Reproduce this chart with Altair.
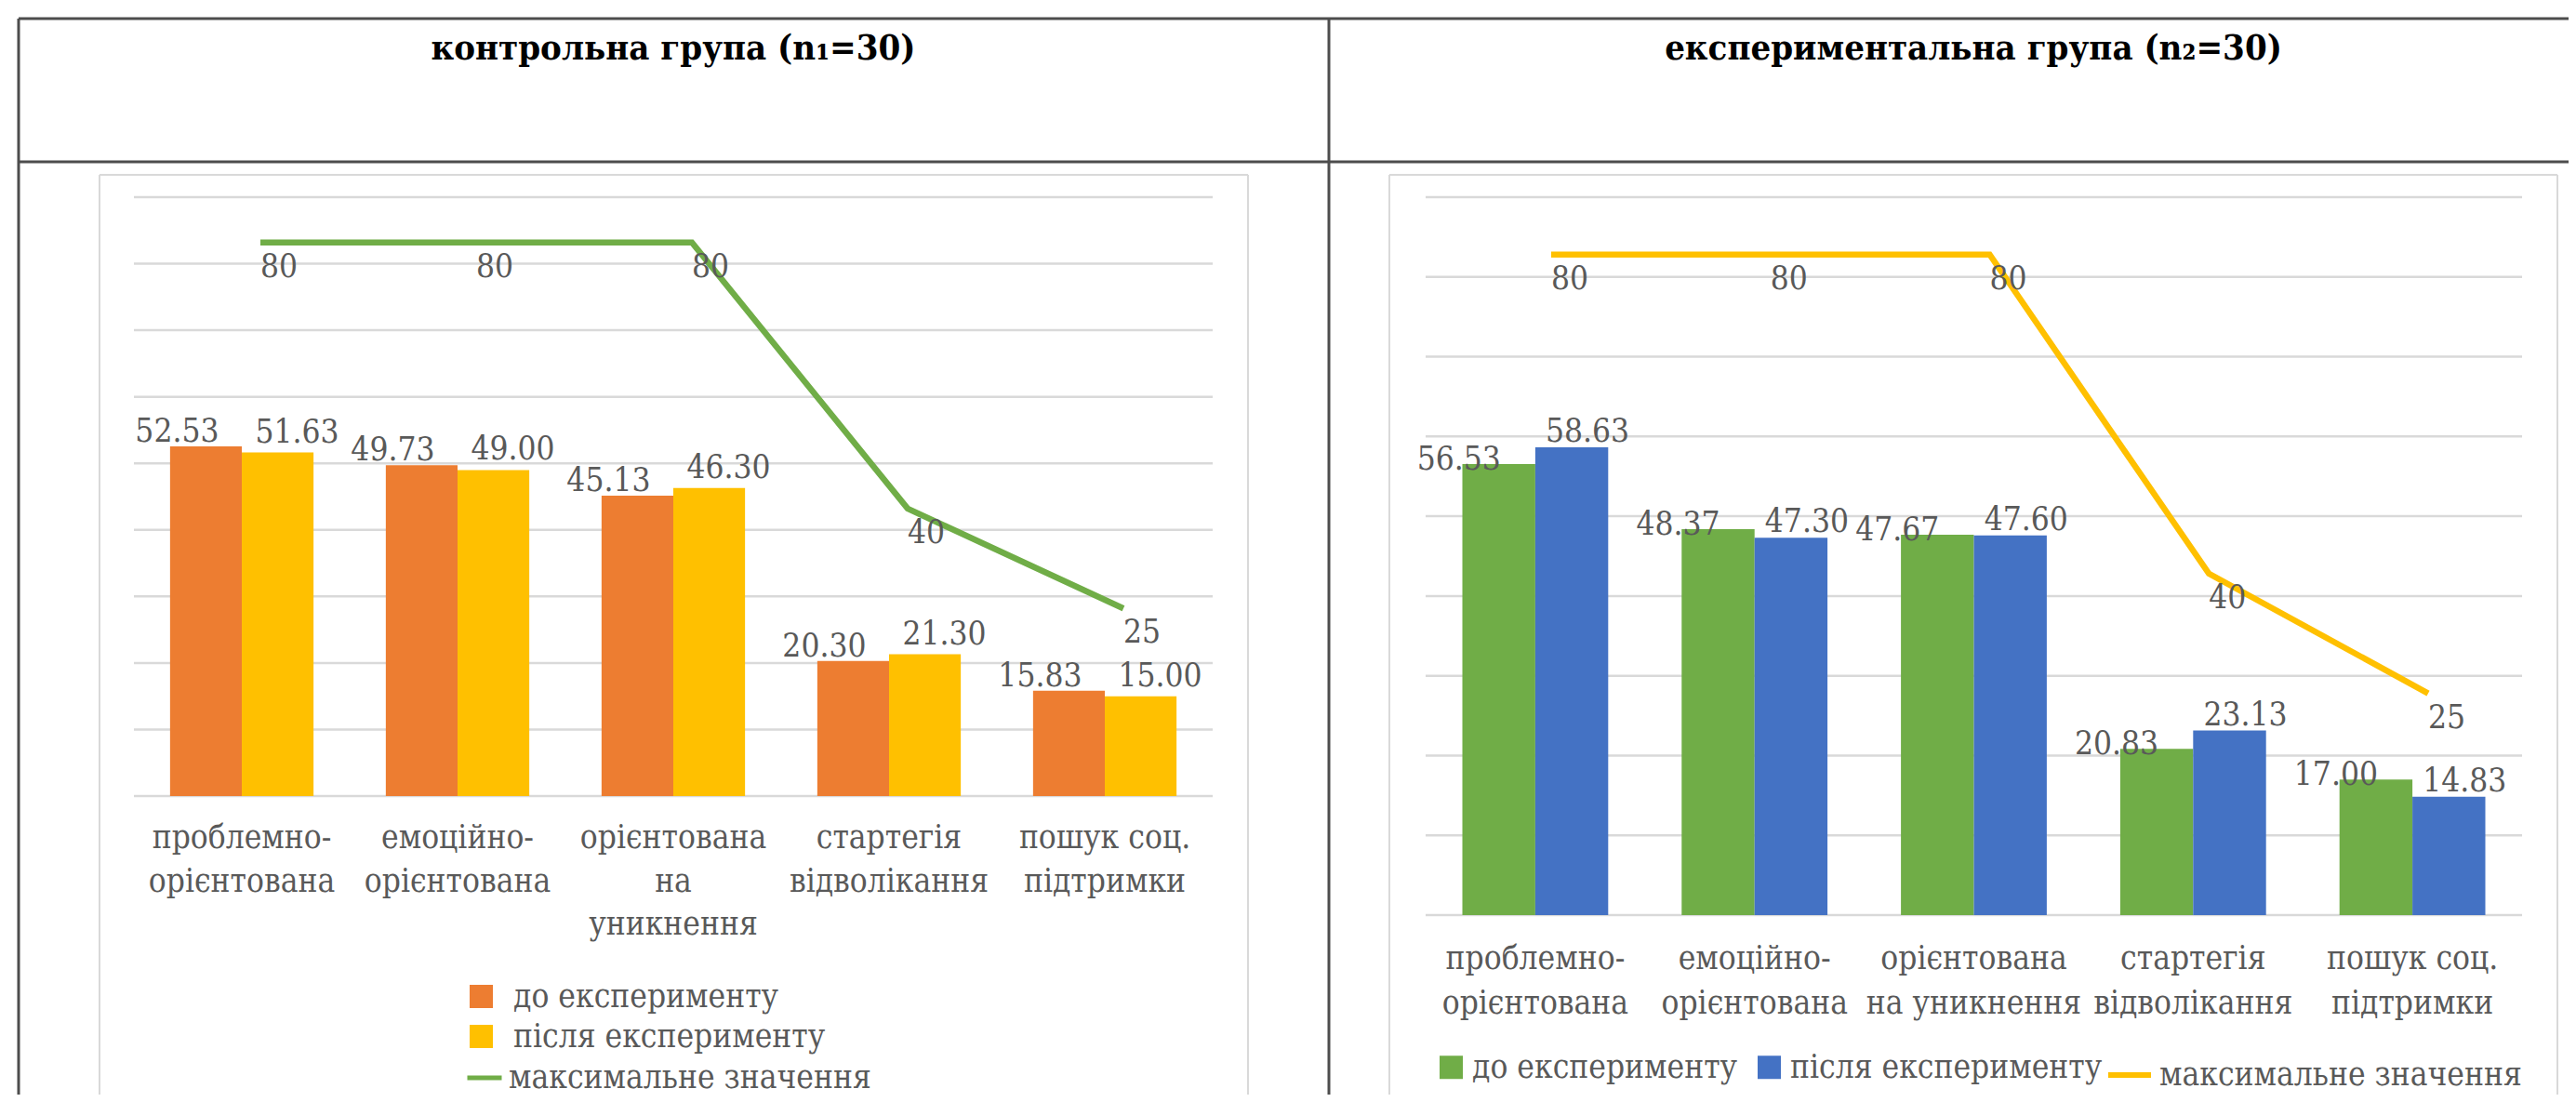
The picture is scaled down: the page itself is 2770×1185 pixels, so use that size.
import altair as alt
import pandas as pd

# ---------------- data ----------------
categories = [
    "проблемно-орієнтована",
    "емоційно-орієнтована",
    "орієнтована на уникнення",
    "стартегія відволікання",
    "пошук соц. підтримки",
]
labels_control = [
    "проблемно-\nорієнтована",
    "емоційно-\nорієнтована",
    "орієнтована\nна\nуникнення",
    "стартегія\nвідволікання",
    "пошук соц.\nпідтримки",
]
labels_experimental = [
    "проблемно-\nорієнтована",
    "емоційно-\nорієнтована",
    "орієнтована\nна уникнення",
    "стартегія\nвідволікання",
    "пошук соц.\nпідтримки",
]
series_names = ["до експерименту", "після експерименту"]
line_name = "максимальне значення"
panel_titles = ["контрольна група (n₁=30)", "експериментальна група (n₂=30)"]

control_before = [52.53, 49.73, 45.13, 20.30, 15.83]
control_after = [51.63, 49.00, 46.30, 21.30, 15.00]
exp_before = [56.53, 48.37, 47.67, 20.83, 17.00]
exp_after = [58.63, 47.30, 47.60, 23.13, 14.83]
max_values = [80, 80, 80, 40, 25]
grid_values = [0, 10, 20, 30, 40, 50, 60, 70, 80, 90]

FONT = "'DejaVu Serif Condensed', 'DejaVu Serif', serif"
TXT = "#595959"
FS = 35
W, H = 2754, 1169


def bar_frame(before, after):
    rows = []
    for c, b, a in zip(categories, before, after):
        rows.append({"cat": c, "series": series_names[0], "value": b})
        rows.append({"cat": c, "series": series_names[1], "value": a})
    return pd.DataFrame(rows)


def panel(before, after, labels, colors, line_color, g):
    bars_df = bar_frame(before, after)
    cats_df = pd.DataFrame({"cat": categories, "label": labels})
    line_df = pd.DataFrame({"cat": categories, "value": max_values, "name": [line_name] * 5})
    grid_df = pd.DataFrame({"v": grid_values})

    xs = alt.Scale(domain=categories, range=g["x_range"], paddingInner=0.335, paddingOuter=0.1675)
    ys = alt.Scale(domain=[0, 90], range=[g["y0"], g["y90"]], nice=False)
    xo = alt.XOffset("series:N", scale=alt.Scale(domain=series_names, paddingInner=0, paddingOuter=0),
                     sort=series_names)
    X = alt.X("cat:N", scale=xs, axis=None, sort=categories)
    Y = alt.Y("value:Q", scale=ys, axis=None)

    grid = alt.Chart(grid_df).mark_rule(color="#D9D9D9", strokeWidth=2.5).encode(
        y=alt.Y("v:Q", scale=ys, axis=None),
        x=alt.value(g["x_range"][0]),
        x2=alt.value(g["x_range"][1]),
    )
    bars = alt.Chart(bars_df).mark_bar().encode(
        x=X, xOffset=xo, y=Y,
        color=alt.Color(
            "series:N",
            scale=alt.Scale(domain=series_names, range=colors),
            legend=alt.Legend(**g["bar_legend"], title=None, symbolType="square", symbolSize=625,
                              symbolStrokeWidth=0, labelFont=FONT, labelFontSize=FS,
                              labelColor=TXT, padding=0, labelLimit=2000),
        ),
    )
    layers = [grid, bars]
    for s, (dx, dy) in zip(series_names, g["label_off"]):
        layers.append(
            alt.Chart(bars_df).transform_filter(alt.datum.series == s)
            .mark_text(font=FONT, fontSize=FS, color=TXT, dx=dx, dy=dy, baseline="middle")
            .encode(x=X, xOffset=xo, y=Y, text=alt.Text("value:Q", format=".2f"))
        )
    layers.append(
        alt.Chart(cats_df).mark_text(font=FONT, fontSize=FS, color=TXT, lineBreak="\n",
                                     lineHeight=g["lh"], baseline="alphabetic")
        .encode(x=X, y=alt.value(g["cat_y"]), text="label:N")
    )
    main = alt.layer(*layers)

    lx = alt.X("cat:N", scale=alt.Scale(type="point", domain=categories, range=g["line_x"], padding=0),
               axis=None, sort=categories)
    ly = alt.Y("value:Q", scale=alt.Scale(domain=g["line_dom"], range=[g["y0"], g["y90"]],
                                          nice=False, zero=False), axis=None)
    line = alt.Chart(line_df).mark_line(strokeWidth=6.5).encode(
        x=lx, y=ly,
        stroke=alt.Stroke(
            "name:N",
            scale=alt.Scale(domain=[line_name], range=[line_color]),
            legend=alt.Legend(**g["line_legend"], title=None, symbolType="stroke",
                              labelFont=FONT, labelFontSize=FS, labelColor=TXT,
                              padding=0, labelLimit=2000),
        ),
    )
    line_lbl = alt.Chart(line_df).mark_text(font=FONT, fontSize=FS, color=TXT, dx=20, dy=26,
                                            baseline="middle").encode(
        x=lx, y=ly, text=alt.Text("value:Q", format="d"))
    sec = alt.layer(line, line_lbl)
    return alt.layer(main, sec).resolve_scale(x="independent", y="independent")


geo_left = dict(
    x_range=[136, 1296], y0=848, y90=204, line_x=[272, 1200], line_dom=[-3.2, 86.8],
    label_off=[(-31, -16), (21, -22)], cat_y=904, lh=46.5,
    bar_legend=dict(orient="none", legendX=492, legendY=1046, direction="vertical",
                    rowPadding=7, labelOffset=17),
    line_legend=dict(orient="none", legendX=492, legendY=1130, direction="vertical",
                     symbolSize=1369, symbolStrokeWidth=5, labelOffset=5),
)
geo_right = dict(
    x_range=[1525, 2704], y0=976, y90=204, line_x=[1660, 2603], line_dom=[-2.8, 87.2],
    label_off=[(-43, -5), (17, -17)], cat_y=1034, lh=48,
    bar_legend=dict(orient="none", legendX=1535, legendY=1122, direction="horizontal",
                    columnPadding=16, labelOffset=5),
    line_legend=dict(orient="none", legendX=2256, legendY=1122, direction="horizontal",
                     symbolSize=2116, symbolStrokeWidth=6, labelOffset=6),
)

left = panel(control_before, control_after, labels_control, ["#ED7D31", "#FFC000"], "#70AD47", geo_left)
right = panel(exp_before, exp_after, labels_experimental, ["#70AD47", "#4472C4"], "#FFC000", geo_right)

# ---------------- table decoration ----------------
one = pd.DataFrame({"k": [0]})


def hline(x1, x2, y, color, w):
    return alt.Chart(one).mark_rule(color=color, strokeWidth=w).encode(
        x=alt.value(x1), x2=alt.value(x2), y=alt.value(y))


def vline(x, y1, y2, color, w):
    return alt.Chart(one).mark_rule(color=color, strokeWidth=w).encode(
        x=alt.value(x), y=alt.value(y1), y2=alt.value(y2))


FRAME = "#D9D9D9"
BORDER = "#4d4d4d"
decor = [
    hline(99, 1334, 180, FRAME, 2), vline(99, 180, H, FRAME, 2), vline(1334, 180, H, FRAME, 2),
    hline(1486, 2742, 180, FRAME, 2), vline(1486, 180, H, FRAME, 2), vline(2742, 180, H, FRAME, 2),
    hline(12, W, 12, BORDER, 3), hline(12, W, 166, BORDER, 3),
    vline(12, 12, H, BORDER, 3), vline(1421, 12, H, BORDER, 3),
]
titles = [
    alt.Chart(one).mark_text(text=panel_titles[0], font=FONT, fontSize=38, fontWeight="bold",
                             color="#000000", baseline="alphabetic", align="center")
    .encode(x=alt.value(716), y=alt.value(56)),
    alt.Chart(one).mark_text(text=panel_titles[1], font=FONT, fontSize=38, fontWeight="bold",
                             color="#000000", baseline="alphabetic", align="center")
    .encode(x=alt.value(2114), y=alt.value(56)),
]

chart = alt.layer(left, right, *decor, *titles).resolve_scale(
    x="independent", y="independent", color="independent", stroke="independent",
    xOffset="independent",
).properties(
    width=W, height=H, autosize=alt.AutoSizeParams(type="none"), padding=0,
).configure_view(stroke=None)

chart.save("out.html", embed_options={"renderer": "svg", "actions": False})
